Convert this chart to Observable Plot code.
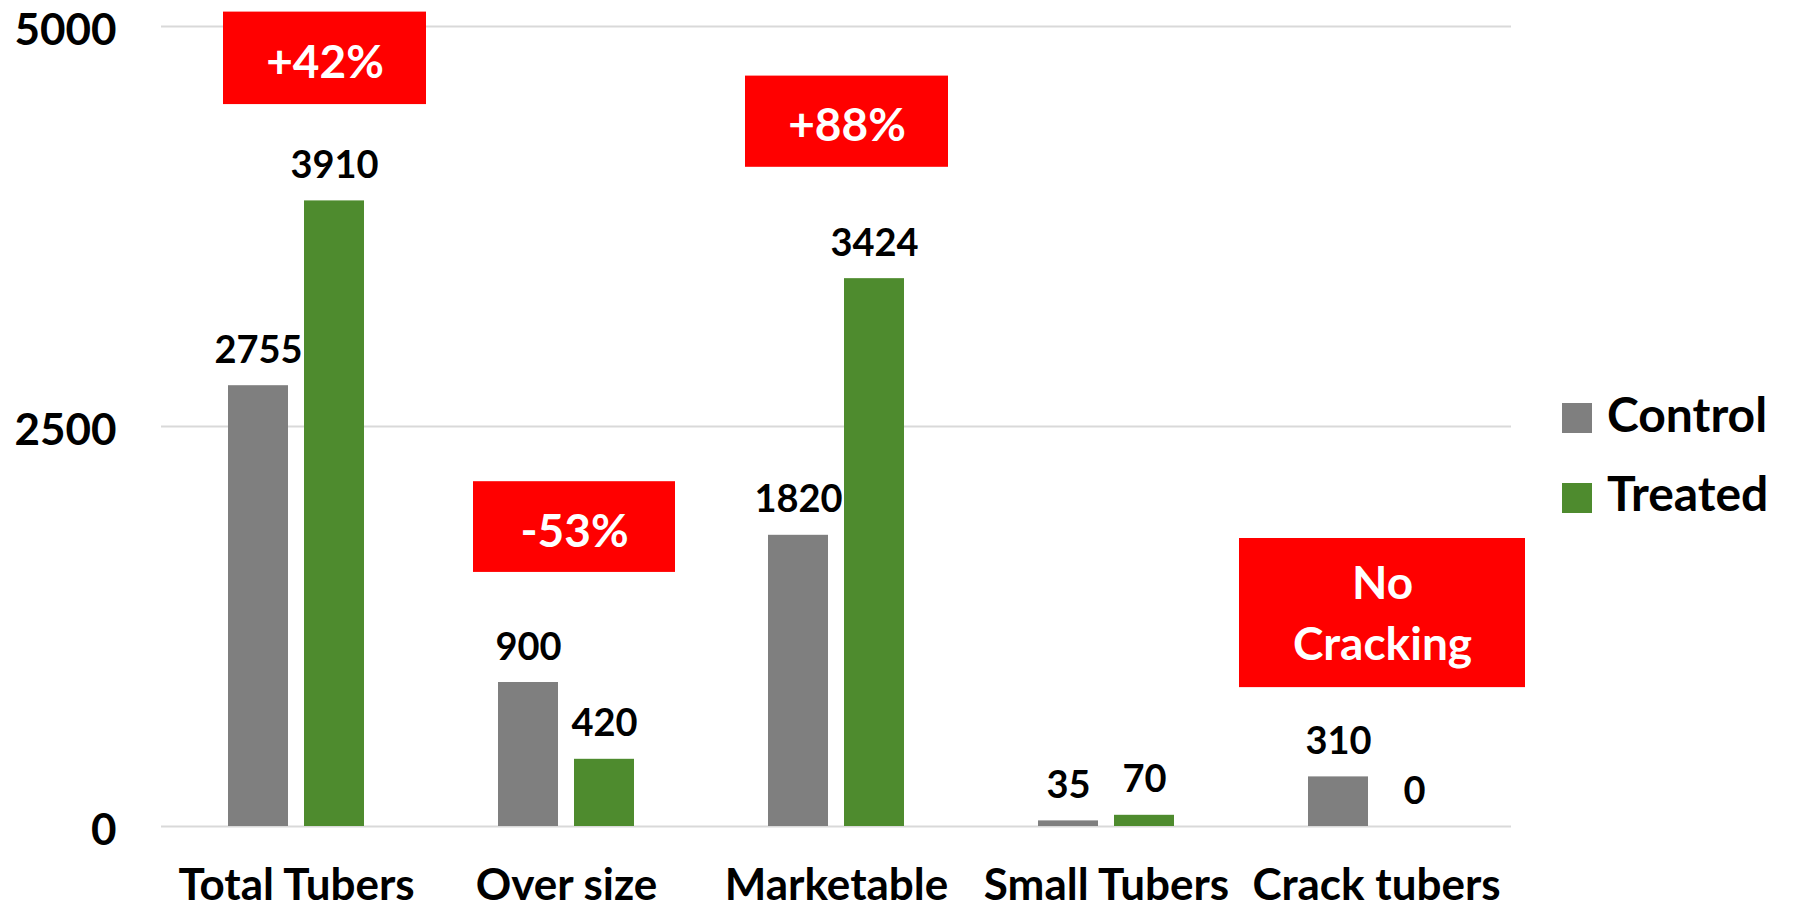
<!DOCTYPE html>
<html>
<head>
<meta charset="utf-8">
<script src="https://cdn.jsdelivr.net/npm/d3@7"></script>
<script src="https://cdn.jsdelivr.net/npm/@observablehq/plot@0.6"></script>
<style>
  html, body { margin: 0; padding: 0; background: #ffffff; }
  #wrap { position: relative; width: 1805px; height: 910px; font-family: Lato, "Open Sans", sans-serif; }
  .leg-sw { position: absolute; width: 30px; height: 30px; }
  .leg-tx { position: absolute; font-size: 48px; font-weight: bold; line-height: 48px; color: #000; white-space: nowrap; }
</style>
</head>
<body>
<div id="wrap"></div>
<script>
// ---- data ----
const categories = ["Total Tubers", "Over size", "Marketable", "Small Tubers", "Crack tubers"];
const seriesNames = ["Control", "Treated"];
const controlValues = [2755, 900, 1820, 35, 310];
const treatedValues = [3910, 420, 3424, 70, 0];
const yTicks = [0, 2500, 5000];

// annotation boxes (value extents in data units)
const boxCategories = ["Total Tubers", "Over size", "Marketable", "Crack tubers"];
const boxLabels = ["+42%", "-53%", "+88%", "No\nCracking"];
const boxLow = [4512, 1588, 4120, 868];
const boxHigh = [5090, 2155, 4690, 1800];

// ---- styles ----
const seriesColors = ["#7f7f7f", "#4e8b2e"];
const boxColor = "#ff0000";
const boxInsets = [[62, 5], [42, 26], [44, 23], [-2, -14]];

// ---- build tables ----
const bars = [];
categories.forEach((c, i) => {
  bars.push({category: c, series: seriesNames[0], value: controlValues[i]});
  bars.push({category: c, series: seriesNames[1], value: treatedValues[i]});
});
const boxes = boxCategories.map((c, i) => ({category: c, lo: boxLow[i], hi: boxHigh[i], label: boxLabels[i]}));

const boxMarks = [];
boxes.forEach((b, i) => {
  const [il, ir] = boxInsets[i];
  boxMarks.push(Plot.barY([b], {fx: "category", y1: "lo", y2: "hi", fill: boxColor, insetLeft: il, insetRight: ir}));
  boxMarks.push(Plot.text([b], {
    fx: "category", y: d => (d.lo + d.hi) / 2, text: "label",
    dx: (il - ir) / 2, dy: b.label.includes("\n") ? -3 : 0,
    lineAnchor: "middle", lineHeight: 1.33,
    fill: "#ffffff", fontSize: 46, fontWeight: "bold"
  }));
});

const chart = Plot.plot({
  width: 1805,
  height: 910,
  marginLeft: 160,
  marginRight: 293,
  marginTop: 26,
  marginBottom: 84,
  style: {fontFamily: "Lato, 'Open Sans', sans-serif", color: "#000", background: "#fff"},
  fx: {domain: categories, padding: 0, label: null},
  x: {domain: seriesNames, paddingInner: 0.208, paddingOuter: 0.86, axis: null},
  y: {domain: [0, 5000], label: null},
  color: {domain: seriesNames, range: seriesColors},
  marks: [
    Plot.gridY({ticks: yTicks, stroke: "#d9d9d9", strokeOpacity: 1, strokeWidth: 2}),
    Plot.axisY({ticks: yTicks, tickFormat: d => String(d), tickSize: 0, tickPadding: 45, dy: 4,
      fontSize: 44, fontWeight: "bold", label: null}),
    Plot.axisFx({anchor: "bottom", tickSize: 0, tickPadding: 42, fontSize: 44, fontWeight: "bold", label: null}),
    Plot.barY(bars, {fx: "category", x: "series", y: "value", fill: "series"}),
    Plot.text(bars, {fx: "category", x: "series", y: "value", text: d => String(d.value),
      lineAnchor: "bottom", dy: -23, fontSize: 38, fontWeight: "bold", fill: "#000"}),
    ...boxMarks
  ]
});

const wrap = document.getElementById("wrap");
wrap.appendChild(chart);

// legend (right side)
seriesNames.forEach((s, i) => {
  const sw = document.createElement("div");
  sw.className = "leg-sw";
  sw.style.left = "1562px";
  sw.style.top = (403 + i * 80) + "px";
  sw.style.background = seriesColors[i];
  wrap.appendChild(sw);
  const tx = document.createElement("div");
  tx.className = "leg-tx";
  tx.style.left = "1607px";
  tx.style.top = (390 + i * 79) + "px";
  tx.textContent = s;
  wrap.appendChild(tx);
});
</script>
</body>
</html>
